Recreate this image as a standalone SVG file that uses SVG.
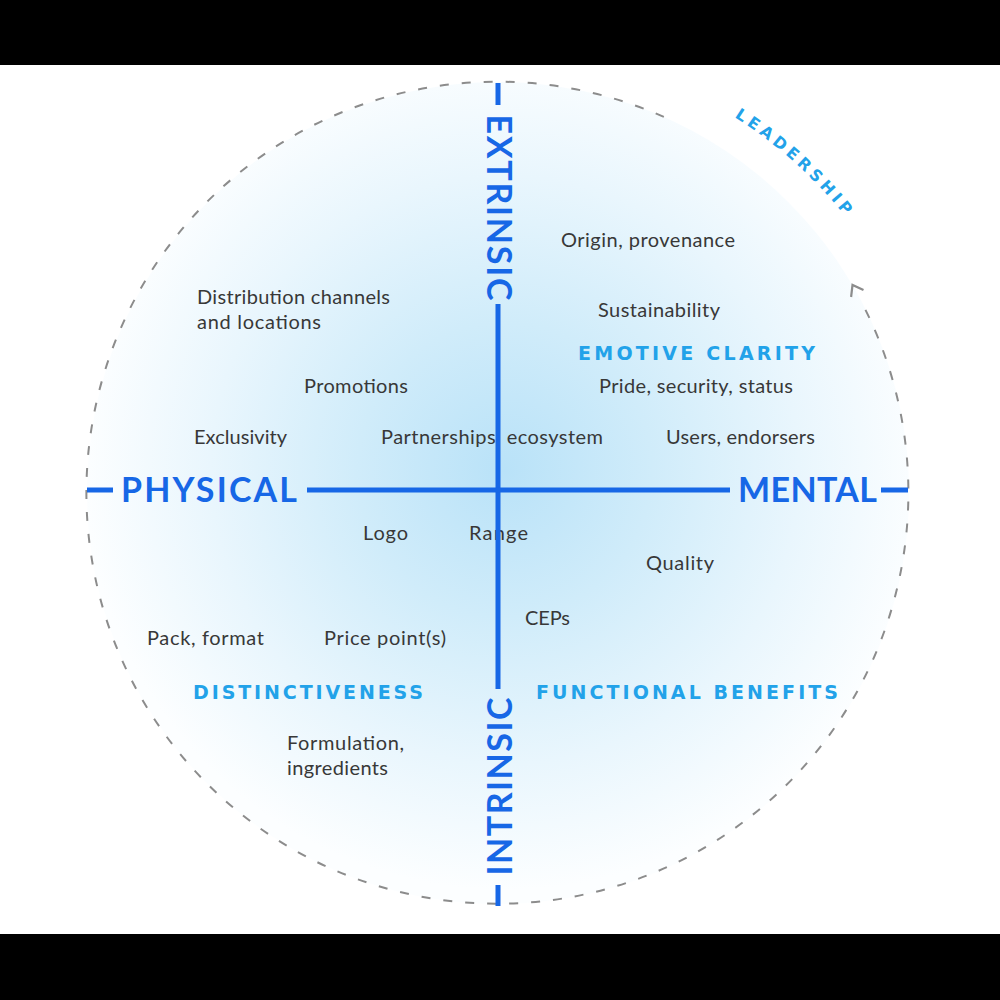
<svg xmlns="http://www.w3.org/2000/svg" width="1000" height="1000" viewBox="0 0 1000 1000">
<defs>
<radialGradient id="glow" cx="505" cy="470" r="420" gradientUnits="userSpaceOnUse">
<stop offset="0" stop-color="#b9e2f8"/>
<stop offset="0.35" stop-color="#d0ecfa"/>
<stop offset="0.7" stop-color="#e9f6fd"/>
<stop offset="1" stop-color="#fcfeff"/>
</radialGradient>
<path id="leadArc" d="M678.6,87.4 A444,444 0 0 1 882.5,271"/>
</defs>
<style>
.item{font-family:Lato,"Open Sans",sans-serif;font-size:20px;fill:#383838;}
.quad{font-family:"DejaVu Sans",Lato,sans-serif;font-size:19px;font-weight:bold;fill:#22a2e9;letter-spacing:1px;}
.lead{font-family:"DejaVu Sans",Lato,sans-serif;font-size:16px;font-weight:bold;fill:#22a2e9;letter-spacing:4px;}
.axis{font-family:Lato,"Open Sans",sans-serif;font-size:34px;font-weight:bold;fill:#1767e6;}
.axl{stroke:#1767e6;stroke-width:5;fill:none;}
.ring{stroke:#8c8c8c;stroke-width:2;fill:none;stroke-dasharray:9 13;}
</style>
<rect x="0" y="0" width="1000" height="1000" fill="#ffffff"/>
<circle cx="498" cy="493" r="411" fill="url(#glow)"/>
<rect x="0" y="0" width="1000" height="65" fill="#000000"/>
<rect x="0" y="934" width="1000" height="66" fill="#000000"/>

<g id="ring">
<path class="ring" stroke-dashoffset="9" d="M859.6,298.5 A411,411 0 1 1 667.1,118.4"/>
<path d="M851.1,297 L852.5,285 L863.5,290" fill="none" stroke="#8c8c8c" stroke-width="2.2" stroke-linejoin="miter"/>
<text class="lead"><textPath href="#leadArc" startOffset="50%" text-anchor="middle">LEADERSHIP</textPath></text>
</g>

<g id="items">
<text class="item" x="561" y="247" textLength="174">Origin, provenance</text>
<text class="item" x="197" y="304" textLength="193">Distribution channels</text>
<text class="item" x="197" y="329" textLength="124">and locations</text>
<text class="item" x="598" y="317" textLength="122">Sustainability</text>
<text class="item" x="304" y="393" textLength="104">Promotions</text>
<text class="item" x="599" y="393" textLength="194">Pride, security, status</text>
<text class="item" x="194" y="444" textLength="93">Exclusivity</text>
<text class="item" x="381" y="444" textLength="222">Partnerships, ecosystem</text>
<text class="item" x="666" y="444" textLength="149">Users, endorsers</text>
<text class="item" x="363" y="540" textLength="45">Logo</text>
<text class="item" x="469" y="540" textLength="59">Range</text>
<text class="item" x="646" y="570" textLength="68">Quality</text>
<text class="item" x="525" y="625" textLength="45">CEPs</text>
<text class="item" x="147" y="645" textLength="117">Pack, format</text>
<text class="item" x="324" y="645" textLength="122">Price point(s)</text>
<text class="item" x="287" y="750" textLength="117">Formulation,</text>
<text class="item" x="287" y="775" textLength="101">ingredients</text>
</g>

<g id="quadrants">
<text class="quad" x="578" y="360" textLength="238">EMOTIVE CLARITY</text>
<text class="quad" x="193" y="699" textLength="231">DISTINCTIVENESS</text>
<text class="quad" x="536" y="699" textLength="303">FUNCTIONAL BENEFITS</text>
</g>

<g id="connectors">
<line class="axl" x1="498" y1="83" x2="498" y2="105"/>
<line class="axl" x1="498" y1="304" x2="498" y2="689"/>
<line class="axl" x1="498" y1="885" x2="498" y2="906"/>
<line class="axl" x1="87" y1="490" x2="113" y2="490"/>
<line class="axl" x1="307" y1="490" x2="730" y2="490"/>
<line class="axl" x1="881" y1="490" x2="908" y2="490"/>
</g>

<g id="axes">
<text class="axis" x="121" y="502" textLength="176">PHYSICAL</text>
<text class="axis" x="738" y="502" textLength="139">MENTAL</text>
<text class="axis" transform="translate(487,207.5) rotate(90)" x="0" y="0" text-anchor="middle" textLength="186">EXTRINSIC</text>
<text class="axis" transform="translate(512,786.5) rotate(-90)" x="0" y="0" text-anchor="middle" textLength="178">INTRINSIC</text>
</g>
</svg>
